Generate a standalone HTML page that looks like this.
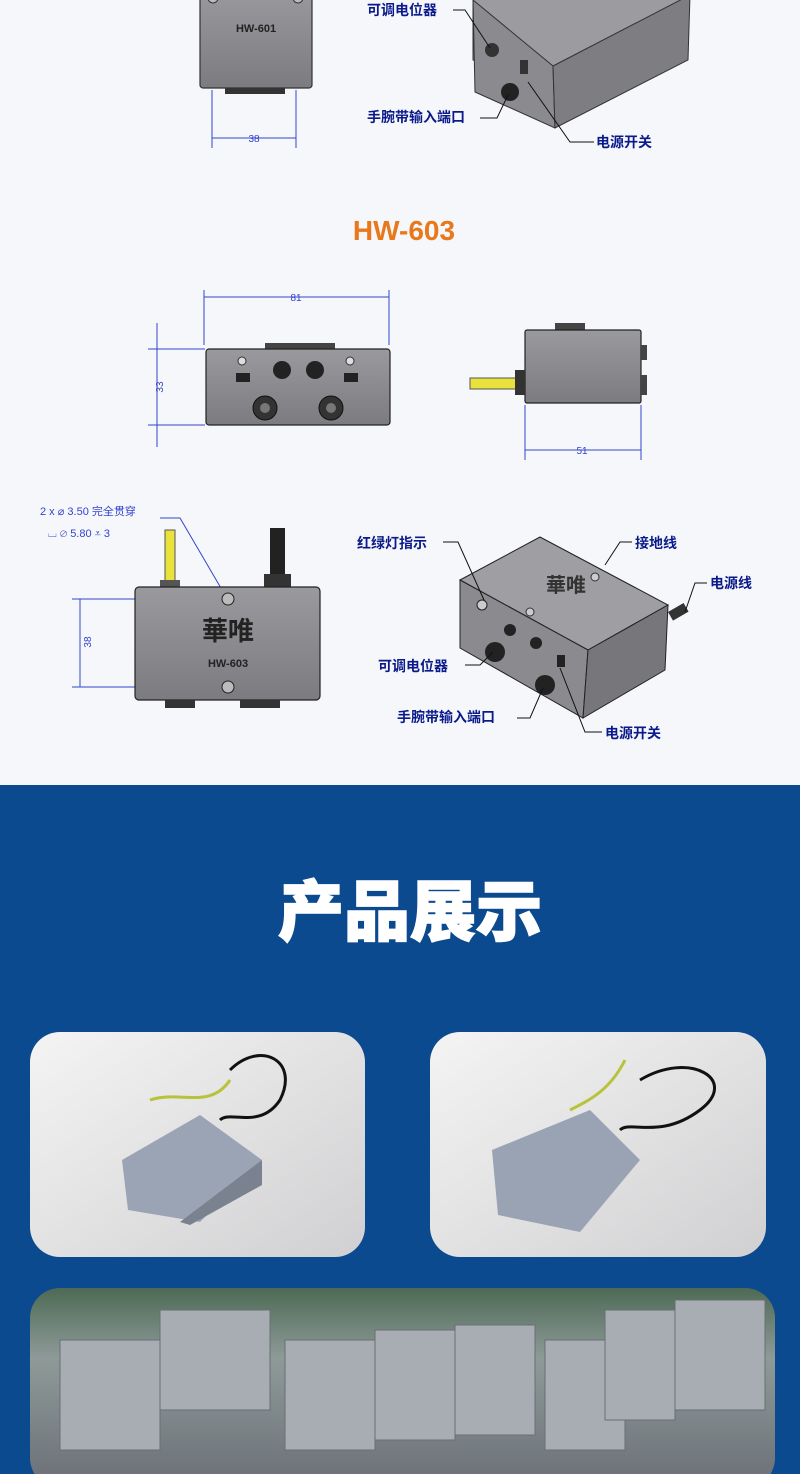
<!DOCTYPE html>
<html><head><meta charset="utf-8"><style>
body{margin:0;width:800px;height:1474px;overflow:hidden;font-family:"Liberation Sans","Noto Sans CJK SC",sans-serif;}
</style></head><body>
<svg width="800" height="1474" viewBox="0 0 800 1474" xmlns="http://www.w3.org/2000/svg" font-family="Liberation Sans, Noto Sans CJK SC, sans-serif">
<defs>
<linearGradient id="g1" x1="0" y1="0" x2="0" y2="1"><stop offset="0" stop-color="#9a9a9e"/><stop offset="1" stop-color="#7b7b80"/></linearGradient>
<linearGradient id="ph" x1="0" y1="0" x2="1" y2="1"><stop offset="0" stop-color="#f4f4f4"/><stop offset="1" stop-color="#d0d0d2"/></linearGradient>
<linearGradient id="ph2" x1="0" y1="0" x2="0" y2="1"><stop offset="0" stop-color="#4d6a55"/><stop offset="0.35" stop-color="#8e9a98"/><stop offset="1" stop-color="#6a6f76"/></linearGradient>
</defs>
<rect width="800" height="785" fill="#f5f7fb"/>
<rect y="785" width="800" height="689" fill="#0b4a8e"/>

<!-- top partial HW-601 -->
<rect x="200" y="-10" width="112" height="98" rx="3" fill="url(#g1)" stroke="#333" stroke-width="1.2"/>
<text x="256" y="32" font-size="11" font-weight="bold" text-anchor="middle" fill="#222">HW-601</text>
<circle cx="213" cy="-2" r="5" fill="#bbb" stroke="#333"/><circle cx="298" cy="-2" r="5" fill="#bbb" stroke="#333"/>
<rect x="225" y="88" width="60" height="6" fill="#333"/>
<g stroke="#3344cc" stroke-width="1" fill="none"><line x1="212" y1="90" x2="212" y2="148"/><line x1="296" y1="90" x2="296" y2="148"/><line x1="212" y1="138" x2="296" y2="138"/></g>
<text x="254" y="142" font-size="10" text-anchor="middle" fill="#3344cc">38</text>
<polygon points="473,0 520,-20 690,-5 650,70 553,66 473,60" fill="#9c9ca0" stroke="#333"/>
<polygon points="473,0 553,66 555,128 475,92" fill="#8a8a8f" stroke="#333"/>
<polygon points="553,66 690,-5 688,60 555,128" fill="#7d7d82" stroke="#333"/>
<circle cx="492" cy="50" r="7" fill="#333"/><circle cx="510" cy="92" r="9" fill="#222"/><rect x="520" y="60" width="8" height="14" fill="#333"/>
<text x="367" y="15" font-size="14" font-weight="bold" fill="#0a1a8a">可调电位器</text>
<text x="367" y="122" font-size="14" font-weight="bold" fill="#0a1a8a">手腕带输入端口</text>
<text x="596" y="147" font-size="14" font-weight="bold" fill="#0a1a8a">电源开关</text>
<g stroke="#111" fill="none"><polyline points="453,10 465,10 490,48"/><polyline points="480,118 497,118 508,95"/><polyline points="594,142 570,142 528,82"/></g>

<!-- HW-603 -->
<text x="404" y="240" font-size="28" font-weight="bold" text-anchor="middle" fill="#e8781a">HW-603</text>
<g stroke="#3344cc" stroke-width="1" fill="none">
<line x1="204" y1="290" x2="204" y2="345"/><line x1="389" y1="290" x2="389" y2="345"/><line x1="204" y1="297" x2="389" y2="297"/>
<line x1="148" y1="349" x2="205" y2="349"/><line x1="148" y1="425" x2="205" y2="425"/><line x1="157" y1="323" x2="157" y2="447"/>
<line x1="525" y1="405" x2="525" y2="460"/><line x1="641" y1="405" x2="641" y2="460"/><line x1="525" y1="450" x2="641" y2="450"/>
</g>
<text x="296" y="301" font-size="10" text-anchor="middle" fill="#3344cc">81</text>
<text x="160" y="390" font-size="10" text-anchor="middle" fill="#3344cc" transform="rotate(-90 160 387)">33</text>
<text x="582" y="454" font-size="10" text-anchor="middle" fill="#3344cc">51</text>
<rect x="265" y="343" width="70" height="7" fill="#444"/>
<rect x="206" y="349" width="184" height="76" rx="3" fill="url(#g1)" stroke="#222" stroke-width="1.2"/>
<circle cx="282" cy="370" r="9" fill="#222"/><circle cx="315" cy="370" r="9" fill="#222"/>
<circle cx="265" cy="408" r="12" fill="#333" stroke="#111"/><circle cx="265" cy="408" r="5" fill="#777"/>
<circle cx="331" cy="408" r="12" fill="#333" stroke="#111"/><circle cx="331" cy="408" r="5" fill="#777"/>
<rect x="236" y="373" width="14" height="9" fill="#222"/><rect x="344" y="373" width="14" height="9" fill="#222"/>
<circle cx="242" cy="361" r="4" fill="#ddd" stroke="#333"/><circle cx="350" cy="361" r="4" fill="#ddd" stroke="#333"/>
<rect x="555" y="323" width="30" height="8" fill="#444"/>
<rect x="525" y="330" width="116" height="73" rx="2" fill="url(#g1)" stroke="#222" stroke-width="1.2"/>
<rect x="470" y="378" width="50" height="11" fill="#e8e23a" stroke="#555"/><rect x="515" y="370" width="10" height="25" fill="#333"/>
<rect x="641" y="345" width="6" height="15" fill="#444"/><rect x="641" y="375" width="6" height="20" fill="#444"/>

<!-- bottom front -->
<text x="40" y="515" font-size="11" fill="#3344cc">2 x ⌀ 3.50 完全贯穿</text>
<text x="48" y="537" font-size="11" fill="#3344cc">⌴ ⌀ 5.80 ⩡ 3</text>
<polyline points="160,518 180,518 225,595" fill="none" stroke="#3344cc"/>
<rect x="165" y="530" width="10" height="55" fill="#e8e23a" stroke="#555"/>
<rect x="160" y="580" width="20" height="7" fill="#555"/>
<rect x="270" y="528" width="15" height="48" fill="#222"/><rect x="264" y="574" width="27" height="13" fill="#333"/>
<g stroke="#3344cc" fill="none"><line x1="72" y1="599" x2="140" y2="599"/><line x1="72" y1="687" x2="140" y2="687"/><line x1="80" y1="599" x2="80" y2="687"/></g>
<text x="88" y="645" font-size="10" text-anchor="middle" fill="#3344cc" transform="rotate(-90 88 642)">38</text>
<rect x="135" y="587" width="185" height="113" rx="4" fill="url(#g1)" stroke="#222" stroke-width="1.2"/>
<rect x="165" y="700" width="30" height="8" fill="#333"/><rect x="240" y="700" width="40" height="8" fill="#333"/>
<circle cx="228" cy="599" r="6" fill="#bbb" stroke="#222"/><circle cx="228" cy="687" r="6" fill="#bbb" stroke="#222"/>
<text x="228" y="640" font-size="26" font-weight="bold" text-anchor="middle" fill="#222">華唯</text>
<text x="228" y="667" font-size="11" font-weight="bold" text-anchor="middle" fill="#222">HW-603</text>

<!-- iso -->
<polygon points="460,580 540,537 668,605 588,650" fill="#9e9ea3" stroke="#222"/>
<polygon points="460,580 588,650 583,718 460,648" fill="#8a8a8f" stroke="#222"/>
<polygon points="588,650 668,605 665,670 583,718" fill="#76767b" stroke="#222"/>
<text x="566" y="592" font-size="20" font-weight="bold" text-anchor="middle" fill="#333">華唯</text>
<circle cx="595" cy="577" r="4" fill="#ccc" stroke="#333"/><circle cx="530" cy="612" r="4" fill="#ccc" stroke="#333"/>
<rect x="668" y="612" width="18" height="10" fill="#333" transform="rotate(-30 668 612)"/>
<circle cx="482" cy="605" r="5" fill="#ccc" stroke="#222"/><circle cx="510" cy="630" r="6" fill="#222"/><circle cx="536" cy="643" r="6" fill="#222"/>
<circle cx="495" cy="652" r="10" fill="#222"/><circle cx="545" cy="685" r="10" fill="#222"/><rect x="557" y="655" width="8" height="12" fill="#222"/>
<g font-size="14" font-weight="bold" fill="#0a1a8a">
<text x="357" y="548">红绿灯指示</text><text x="635" y="548">接地线</text><text x="710" y="588">电源线</text>
<text x="378" y="671">可调电位器</text><text x="397" y="722">手腕带输入端口</text><text x="605" y="738">电源开关</text></g>
<g stroke="#111" fill="none"><polyline points="443,542 458,542 484,600"/><polyline points="632,542 620,542 605,565"/><polyline points="707,583 695,583 685,612"/><polyline points="465,665 480,665 493,652"/><polyline points="517,718 530,718 543,688"/><polyline points="602,732 585,732 560,668"/></g>

<!-- blue section -->
<text x="410" y="935" font-size="66" font-weight="900" text-anchor="middle" fill="#fff" stroke="#fff" stroke-width="1.5">产品展示</text>
<rect x="30" y="1032" width="335" height="225" rx="30" fill="url(#ph)"/>
<rect x="430" y="1032" width="336" height="225" rx="30" fill="url(#ph)"/>
<polygon points="122,1160 200,1115 262,1160 200,1222 128,1210" fill="#9ba4b4"/>
<polygon points="180,1222 262,1160 262,1185 190,1225" fill="#7a8290"/>
<polygon points="492,1150 590,1110 640,1160 580,1232 498,1215" fill="#9aa3b3"/>
<path d="M230,1070 C260,1040 300,1060 280,1100 C260,1130 230,1110 220,1120" stroke="#111" stroke-width="3" fill="none"/>
<path d="M150,1100 C180,1090 210,1110 230,1080" stroke="#b8c23a" stroke-width="3" fill="none"/>
<path d="M640,1080 C690,1050 740,1080 700,1110 C660,1140 630,1120 620,1130" stroke="#111" stroke-width="3" fill="none"/>
<path d="M570,1110 C590,1100 610,1090 625,1060" stroke="#b8c23a" stroke-width="3" fill="none"/>
<rect x="30" y="1288" width="745" height="200" rx="30" fill="url(#ph2)"/>
<g fill="#a8acb3" stroke="#6a6e75"><rect x="60" y="1340" width="100" height="110"/><rect x="160" y="1310" width="110" height="100"/><rect x="285" y="1340" width="90" height="110"/><rect x="375" y="1330" width="80" height="110"/><rect x="455" y="1325" width="80" height="110"/><rect x="545" y="1340" width="80" height="110"/><rect x="605" y="1310" width="70" height="110"/><rect x="675" y="1300" width="90" height="110"/></g>
</svg>
</body></html>
